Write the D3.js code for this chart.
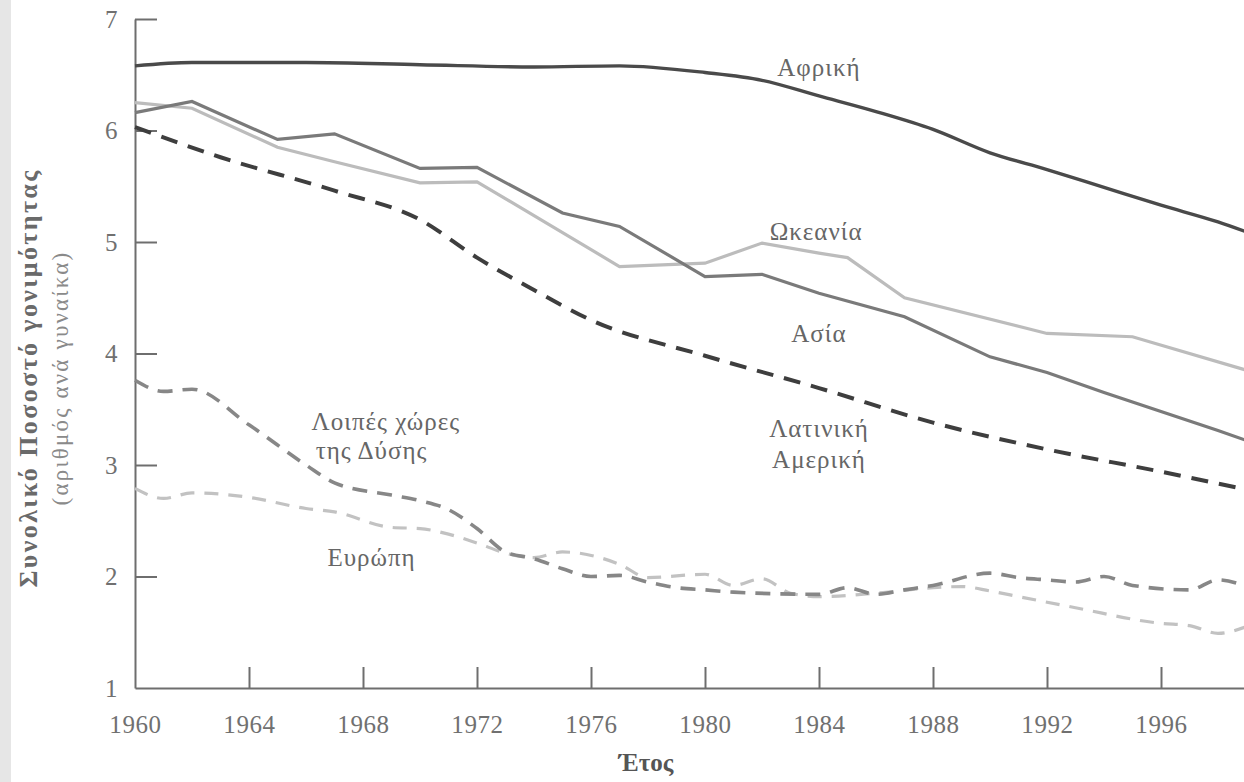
<!DOCTYPE html>
<html>
<head>
<meta charset="utf-8">
<script src="https://cdn.jsdelivr.net/npm/d3@7"></script>
<style>
  html, body { margin: 0; padding: 0; background: #fff; }
  svg { display: block; }
  text { font-family: "Liberation Serif", "DejaVu Serif", serif; }
</style>
</head>
<body>
<svg id="chart" width="1244" height="782"></svg>
<script>
// ---- Data (total fertility rate, births per woman) ----
const xTicks = [1960, 1964, 1968, 1972, 1976, 1980, 1984, 1988, 1992, 1996];
const yTicks = [1, 2, 3, 4, 5, 6, 7];

const africa = [[1960,6.58],[1962,6.61],[1966,6.61],[1970,6.59],[1974,6.57],[1977,6.58],[1980,6.52],[1982,6.45],[1984,6.31],[1986,6.17],[1988,6.01],[1990,5.80],[1992,5.65],[1994,5.49],[1996,5.33],[1998,5.18],[1999,5.09]];
const asia = [[1960,6.16],[1962,6.26],[1965,5.92],[1967,5.97],[1970,5.66],[1972,5.67],[1975,5.26],[1977,5.14],[1980,4.69],[1982,4.71],[1984,4.54],[1987,4.33],[1990,3.97],[1992,3.83],[1994,3.65],[1996,3.48],[1998,3.31],[1999,3.22]];
const oceania = [[1960,6.25],[1962,6.20],[1965,5.85],[1967,5.72],[1970,5.53],[1972,5.54],[1977,4.78],[1980,4.81],[1982,4.99],[1984,4.90],[1985,4.86],[1987,4.50],[1992,4.18],[1995,4.15],[1999,3.85]];
const latinAmerica = [[1960,6.03],[1963,5.76],[1967,5.46],[1970,5.20],[1972,4.86],[1974,4.57],[1976,4.30],[1980,3.98],[1984,3.69],[1988,3.38],[1992,3.14],[1996,2.94],[1999,2.78]];
const otherWest = [[1960,3.76],[1961,3.66],[1962,3.68],[1964,3.36],[1966,3.00],[1967,2.84],[1969,2.73],[1970,2.68],[1971,2.60],[1972,2.43],[1973,2.22],[1974,2.16],[1975,2.07],[1976,2.00],[1977,2.01],[1978,1.95],[1979,1.90],[1980,1.88],[1981,1.86],[1984,1.84],[1985,1.90],[1986,1.84],[1987,1.88],[1988,1.92],[1990,2.03],[1991,1.99],[1992,1.97],[1993,1.95],[1994,2.00],[1995,1.92],[1997,1.88],[1998,1.97],[1999,1.91]];
const europe = [[1960,2.79],[1961,2.70],[1962,2.75],[1964,2.71],[1966,2.61],[1967,2.58],[1969,2.44],[1970,2.43],[1971,2.38],[1972,2.30],[1973,2.21],[1974,2.17],[1975,2.22],[1977,2.11],[1978,1.99],[1980,2.02],[1981,1.92],[1982,1.98],[1983,1.85],[1984,1.82],[1986,1.85],[1988,1.90],[1989,1.91],[1990,1.87],[1991,1.82],[1993,1.72],[1996,1.58],[1997,1.56],[1998,1.49],[1999,1.55]];

const yTitle = "Συνολικό Ποσοστό γονιμότητας";
const ySubtitle = "(αριθμός ανά γυναίκα)";
const xTitle = "Έτος";

// ---- Layout ----
const svg = d3.select("#chart");
const W = 1244, H = 782;
const x = d3.scaleLinear().domain([1960, 2000]).range([135, 1275]);
const y = d3.scaleLinear().domain([1, 7]).range([688, 19]);

// faint page edge
svg.append("rect").attr("x", 0).attr("y", 0).attr("width", 11).attr("height", H).attr("fill", "#e6e6e6");

const axisColor = "#6e6e6e";
const tickTextColor = "#707070";

// X axis
const gx = svg.append("g").attr("transform", `translate(0,${y(1)})`)
  .call(d3.axisBottom(x).tickValues(xTicks).tickFormat(d3.format("d"))
    .tickSizeInner(-21).tickSizeOuter(0).tickPadding(27));
// Y axis
const gy = svg.append("g").attr("transform", `translate(${x(1960)},0)`)
  .call(d3.axisLeft(y).tickValues(yTicks).tickFormat(d3.format("d"))
    .tickSizeInner(-22).tickSizeOuter(0).tickPadding(17));

[gx, gy].forEach(g => {
  g.select(".domain").attr("stroke", axisColor).attr("stroke-width", 2);
  g.selectAll(".tick line").attr("stroke", axisColor).attr("stroke-width", 2);
  g.selectAll(".tick text").attr("fill", tickTextColor)
    .style("font-family", '"Liberation Serif", serif').style("font-size", "25px")
    .style("letter-spacing", "0.6px");
});
gy.selectAll(".tick").filter(d => d === 1).select("line").remove();
gx.selectAll(".tick").filter(d => d === 1960).select("line").remove();

// Lines
const lineLinear = d3.line().x(d => x(d[0])).y(d => y(d[1])).curve(d3.curveLinear);
const lineSmooth = d3.line().x(d => x(d[0])).y(d => y(d[1])).curve(d3.curveMonotoneX);

const plot = svg.append("g");
plot.append("path").datum(europe).attr("d", lineSmooth)
  .attr("fill", "none").attr("stroke", "#c2c2c2").attr("stroke-width", 3.2)
  .attr("stroke-dasharray", "14,10");
plot.append("path").datum(otherWest).attr("d", lineSmooth)
  .attr("fill", "none").attr("stroke", "#878787").attr("stroke-width", 3.6)
  .attr("stroke-dasharray", "15,10");
plot.append("path").datum(oceania).attr("d", lineLinear)
  .attr("fill", "none").attr("stroke", "#bcbcbc").attr("stroke-width", 3.2);
plot.append("path").datum(asia).attr("d", lineLinear)
  .attr("fill", "none").attr("stroke", "#7a7a7a").attr("stroke-width", 3.2);
plot.append("path").datum(latinAmerica).attr("d", lineSmooth)
  .attr("fill", "none").attr("stroke", "#3e3e3e").attr("stroke-width", 4)
  .attr("stroke-dasharray", "17,11");
plot.append("path").datum(africa).attr("d", lineSmooth)
  .attr("fill", "none").attr("stroke", "#4a4a4a").attr("stroke-width", 3.4);

// Series labels
const labelColor = "#666";
const labels = [
  {t: "Αφρική", x: x(1984), y: y(6.49)},
  {t: "Ωκεανία", x: x(1983.9), y: y(5.02)},
  {t: "Ασία", x: x(1984), y: y(4.10)},
  {t: "Λατινική", x: x(1984), y: y(3.25)},
  {t: "Αμερική", x: x(1984), y: y(2.97)},
  {t: "Λοιπές χώρες", x: x(1968.8), y: y(3.31)},
  {t: "της Δύσης", x: x(1968.3), y: y(3.05)},
  {t: "Ευρώπη", x: x(1968.3), y: y(2.09)}
];
svg.append("g").selectAll("text").data(labels).join("text")
  .attr("x", d => d.x).attr("y", d => d.y)
  .attr("text-anchor", "middle").attr("fill", labelColor)
  .style("font-size", "25px").style("letter-spacing", "1px").text(d => d.t);

// Axis titles
svg.append("text").attr("transform", "translate(37,378) rotate(-90)")
  .attr("text-anchor", "middle").attr("fill", "#6a6a6a")
  .style("font-size", "26px").style("font-weight", "bold")
  .style("letter-spacing", "2.4px").text(yTitle);
svg.append("text").attr("transform", "translate(68,378) rotate(-90)")
  .attr("text-anchor", "middle").attr("fill", "#8a8a8a")
  .style("font-size", "23px").style("letter-spacing", "2.2px").text(ySubtitle);
svg.append("text").attr("x", 646).attr("y", 771)
  .attr("text-anchor", "middle").attr("fill", "#555")
  .style("font-size", "25px").style("font-weight", "bold").text(xTitle);
</script>
</body>
</html>
